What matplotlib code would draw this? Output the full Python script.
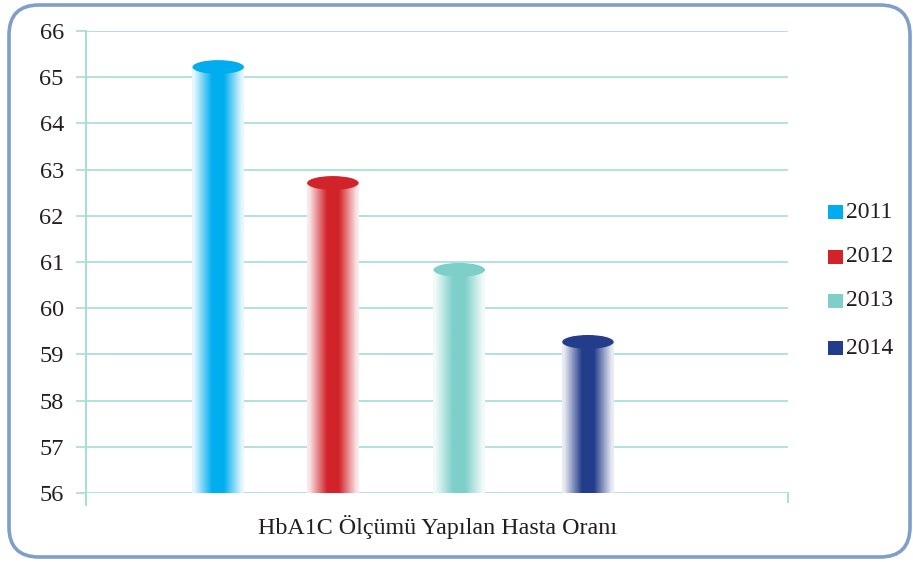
import numpy as np
import matplotlib
matplotlib.use("Agg")
import matplotlib.pyplot as plt
from matplotlib.patches import Ellipse, FancyBboxPatch, Rectangle
from matplotlib.lines import Line2D
from matplotlib.transforms import IdentityTransform

# data
years = ["2011", "2012", "2013", "2014"]
values = [65.22, 62.71, 60.83, 59.27]
colors = ["#00AEEF", "#D2232A", "#7ECFC9", "#233D8C"]
xlabel = "HbA1C Ölçümü Yapılan Hasta Oranı"
yticks = list(range(56, 67))

# layout
W, H = 913, 562
positions = [1.13, 2.11, 3.19, 4.29]
bar_w = 0.44
grid_col = "#A6DDD8"

plt.rcParams["font.family"] = ["Liberation Serif", "DejaVu Serif"]

fig = plt.figure(figsize=(W / 100, H / 100), dpi=100)
ax = fig.add_axes([86 / W, (H - 493) / H, 702 / W, 462 / H])

# gradient cylinders
t = np.linspace(-1, 1, 200)
f = np.clip((1 - np.abs(t)) * 1.3, 0.1, 1.0)
for x, v, c in zip(positions, values, colors):
    rgb = np.array(matplotlib.colors.to_rgb(c))
    row = (1 - f)[:, None] * np.ones(3) + f[:, None] * rgb
    img = row[None, :, :]
    ax.imshow(img, extent=[x - bar_w / 2, x + bar_w / 2, 56, v],
              aspect="auto", zorder=3, interpolation="bilinear")
    ax.add_patch(Ellipse((x, v), bar_w, 0.3, color=c, zorder=4, lw=0))

ax.set_xlim(0, 6)
ax.set_ylim(56, 66)

ax.set_yticks(yticks)
ax.set_xticks([])
ax.grid(axis="y", color=grid_col, lw=1.2, zorder=0)
for s in ax.spines.values():
    s.set_visible(False)
ax.tick_params(axis="y", length=7, width=1.2, color=grid_col, pad=9,
               labelsize=17.5, labelcolor="#231F20")

# axis lines extending below the plot
ax.add_line(Line2D([0, 0], [-0.026, 1], transform=ax.transAxes, color=grid_col,
                   lw=1.4, clip_on=False, zorder=2))
ax.add_line(Line2D([1, 1], [-0.02, 0], transform=ax.transAxes, color=grid_col,
                   lw=1.4, clip_on=False, zorder=2))

fig.text(438 / W, 1 - 527 / H, xlabel, ha="center", va="center",
         fontsize=17.3, color="#231F20")

# legend
rows = [212, 257, 301, 348]
for yy, lab, c in zip(rows, years, colors):
    fig.add_artist(Rectangle((828 / W, 1 - (yy + 7) / H), 15 / W, 14 / H,
                             transform=fig.transFigure, color=c, lw=0))
    fig.text(846 / W, 1 - yy / H, lab, ha="left", va="center",
             fontsize=17, color="#231F20")

# rounded frame
frame = FancyBboxPatch((9 + 30, 5 + 30), (910 - 9) - 60, (557 - 5) - 60,
                       boxstyle="round,pad=30", transform=IdentityTransform(),
                       fill=False, ec="#7F9FC8", lw=2.6)
fig.patches.append(frame)

fig.savefig("out.png", dpi=100)
